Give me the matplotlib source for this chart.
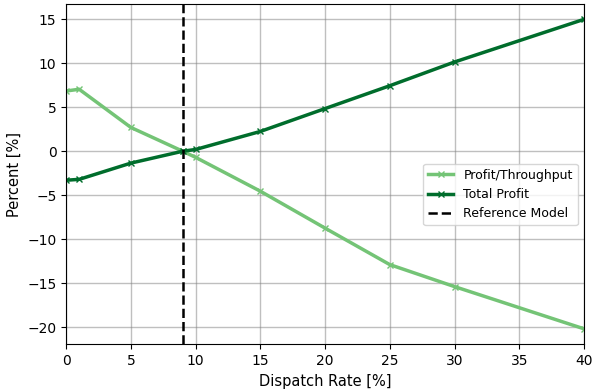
import matplotlib
matplotlib.use("Agg")
import matplotlib.pyplot as plt

# dispatch rates and results
rate = [0, 1, 5, 9, 10, 15, 20, 25, 30, 40]
profit_throughput = [6.85, 7.05, 2.7, 0.0, -0.7, -4.55, -8.75, -12.9, -15.4, -20.2]
total_profit = [-3.3, -3.2, -1.35, 0.0, 0.2, 2.25, 4.85, 7.45, 10.15, 15.0]
ref_rate = 9

fig, ax = plt.subplots(figsize=(6.02, 3.89), dpi=100)
ax.plot(rate, profit_throughput, color="#74c476", marker="x", lw=2.5, ms=5,
        label="Profit/Throughput")
ax.plot(rate, total_profit, color="#006d2c", marker="x", lw=2.5, ms=5,
        label="Total Profit")
ax.axvline(ref_rate, color="black", ls="--", lw=1.8, label="Reference Model")

ax.set_xlim(0, 40)
ax.set_xlabel("Dispatch Rate [%]", fontsize=10.5)
ax.set_ylabel("Percent [%]", fontsize=10.5)
ax.grid(True, color="gray", alpha=0.5, lw=1)
ax.legend(loc="center right", bbox_to_anchor=(1, 0.44), fontsize=9)

fig.subplots_adjust(left=0.11, right=0.97, top=0.99, bottom=0.115)
fig.savefig("out.png")
